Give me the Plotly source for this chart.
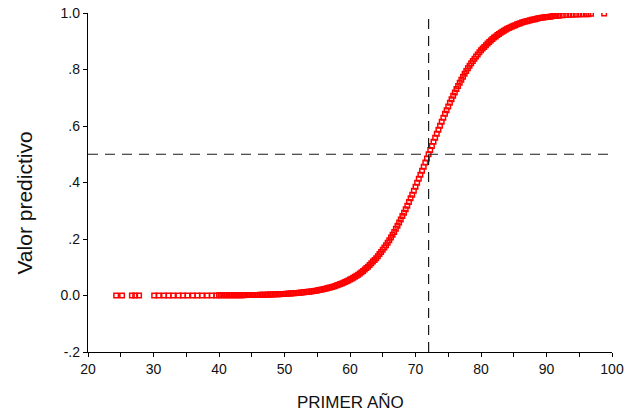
import plotly.graph_objects as go

# ---- data ----
primer_anio = [
    24.3, 25.2, 26.7, 27.2, 27.8,
    30.1, 30.8, 31.6, 32.3, 33.0, 33.8, 34.5, 35.2, 36.0, 36.7, 37.4, 38.2, 38.9, 39.6,
    40.0, 40.25, 40.5, 40.75, 41.0, 41.25, 41.5, 41.75, 42.0, 42.25, 42.5, 42.75, 43.0, 43.25,
    43.5, 43.75, 44.0, 44.25, 44.5, 44.75, 45.0, 45.25, 45.5, 45.75, 46.0, 46.25, 46.5, 46.75,
    47.0, 47.25, 47.5, 47.75, 48.0, 48.25, 48.5, 48.75, 49.0, 49.25, 49.5, 49.75, 50.0, 50.25,
    50.5, 50.75, 51.0, 51.25, 51.5, 51.75, 52.0, 52.25, 52.5, 52.75, 53.0, 53.25, 53.5, 53.75,
    54.0, 54.25, 54.5, 54.75, 55.0, 55.25, 55.5, 55.75, 56.0, 56.25, 56.5, 56.75, 57.0, 57.25,
    57.5, 57.75, 58.0, 58.25, 58.5, 58.75, 59.0, 59.25, 59.5, 59.75, 60.0, 60.25, 60.5, 60.75,
    61.0, 61.25, 61.5, 61.75, 62.0,
    62.25, 62.5, 62.75, 63.0, 63.25, 63.5, 63.75, 64.0, 64.25, 64.5, 64.75, 65.0, 65.25, 65.5,
    65.75, 66.0, 66.25, 66.5, 66.75, 67.0, 67.25, 67.5, 67.75, 68.0, 68.25, 68.5, 68.75, 69.0,
    69.25, 69.5, 69.75, 70.0, 70.25, 70.5, 70.75, 71.0, 71.25, 71.5, 71.75, 72.0, 72.25, 72.5,
    72.75, 73.0, 73.25, 73.5, 73.75, 74.0, 74.25, 74.5, 74.75, 75.0, 75.25, 75.5, 75.75, 76.0,
    76.25, 76.5, 76.75, 77.0, 77.25, 77.5, 77.75, 78.0, 78.25, 78.5, 78.75, 79.0, 79.25, 79.5,
    79.75, 80.0, 80.25, 80.5, 80.75, 81.0, 81.25, 81.5, 81.75, 82.0, 82.25, 82.5, 82.75, 83.0,
    83.25, 83.5, 83.75, 84.0, 84.25, 84.5, 84.75, 85.0, 85.25, 85.5, 85.75, 86.0, 86.25, 86.5,
    86.75, 87.0, 87.25, 87.5, 87.75, 88.0, 88.25, 88.5, 88.75, 89.0, 89.25, 89.5, 89.75, 90.0,
    90.25, 90.5, 90.75, 91.0, 91.25, 91.5, 91.75, 92.0, 92.5, 93.0, 93.5, 94.0, 94.5, 95.0,
    95.5, 96.0, 96.4, 96.8, 98.8,
]
valor_predictivo = [
    0.000, 0.000, 0.000, 0.000, 0.000,
    0.000, 0.000, 0.000, 0.000, 0.000, 0.000, 0.000, 0.000, 0.000, 0.000, 0.000, 0.000, 0.000, 0.000,
    0.0005, 0.0006, 0.0006, 0.0006, 0.0007, 0.0007, 0.0008, 0.0008, 0.0009, 0.0009, 0.0010, 0.0010, 0.0011, 0.0012,
    0.0012, 0.0013, 0.0014, 0.0015, 0.0016, 0.0017, 0.0018, 0.0019, 0.0020, 0.0021, 0.0022, 0.0024, 0.0025, 0.0027,
    0.0028, 0.0030, 0.0032, 0.0034, 0.0035, 0.0038, 0.0040, 0.0042, 0.0045, 0.0048, 0.0051, 0.0054, 0.0057, 0.0060,
    0.0064, 0.0068, 0.0072, 0.0076, 0.0081, 0.0086, 0.0091, 0.0096, 0.0102, 0.0108, 0.0115, 0.0122, 0.0129, 0.0137,
    0.0144, 0.0153, 0.0162, 0.0172, 0.0181, 0.0192, 0.0204, 0.0216, 0.0228, 0.0242, 0.0256, 0.0271, 0.0286, 0.0303,
    0.0321, 0.0340, 0.0360, 0.0381, 0.0403, 0.0426, 0.0450, 0.0476, 0.0503, 0.0532, 0.0562, 0.0594, 0.0627, 0.0662,
    0.0699, 0.0738, 0.0779, 0.0822, 0.0868,
    0.092, 0.097, 0.102, 0.108, 0.114, 0.120, 0.126, 0.132, 0.139, 0.147, 0.154, 0.162, 0.170, 0.178,
    0.187, 0.196, 0.205, 0.215, 0.225, 0.236, 0.247, 0.258, 0.269, 0.281, 0.293, 0.305, 0.318, 0.331,
    0.344, 0.357, 0.371, 0.385, 0.399, 0.413, 0.427, 0.442, 0.456, 0.471, 0.485, 0.500, 0.515, 0.529,
    0.544, 0.558, 0.573, 0.587, 0.601, 0.615, 0.629, 0.643, 0.656, 0.669, 0.682, 0.695, 0.707, 0.719,
    0.731, 0.742, 0.753, 0.764, 0.774, 0.785, 0.795, 0.804, 0.813, 0.822, 0.830, 0.838, 0.846, 0.853,
    0.861, 0.868, 0.874, 0.880, 0.886, 0.892, 0.897, 0.903, 0.908, 0.913, 0.917, 0.922, 0.926, 0.930,
    0.934, 0.937, 0.941, 0.944, 0.947, 0.950, 0.952, 0.955, 0.957, 0.960, 0.962, 0.964, 0.966, 0.968,
    0.970, 0.971, 0.973, 0.974, 0.976, 0.977, 0.978, 0.980, 0.981, 0.982, 0.983, 0.984, 0.985, 0.986,
    0.986, 0.987, 0.988, 0.989, 0.989, 0.990, 0.990, 0.991, 0.992, 0.993, 0.994, 0.994, 0.995, 0.995,
    0.996, 0.996, 0.996, 0.997, 0.998,
]

cutoff_x = 72
cutoff_y = 0.5

x_ticks = [20, 30, 40, 50, 60, 70, 80, 90, 100]
y_tick_vals = [-0.2, 0.0, 0.2, 0.4, 0.6, 0.8, 1.0]
y_tick_text = ["-.2", "0.0", ".2", ".4", ".6", ".8", "1.0"]

FONT = "Liberation Sans, Arial, sans-serif"
INK = "#111111"

fig = go.Figure()

fig.add_trace(go.Scatter(
    x=primer_anio, y=valor_predictivo, mode="markers",
    marker=dict(symbol="square-open", size=4.5, color="#ff0000",
                line=dict(width=1.5, color="#ff0000")),
    showlegend=False, hoverinfo="x+y",
))

dash_style = dict(color="#1a1a1a", width=1.2, dash="10px,7px")
fig.add_shape(type="line", xref="x", yref="y", x0=20, x1=100, y0=cutoff_y, y1=cutoff_y,
              line=dash_style, layer="above")
fig.add_shape(type="line", xref="x", yref="y", x0=cutoff_x, x1=cutoff_x, y0=-0.2, y1=1.0,
              line=dash_style, layer="above")

axis_common = dict(
    ticks="outside", ticklen=4, tickwidth=1.2, tickcolor="black",
    showline=True, linecolor="black", linewidth=1.3,
    showgrid=False, zeroline=False, automargin=False,
    ticklabeloverflow="allow",
    tickfont=dict(size=14, family=FONT, color=INK),
)

fig.update_layout(
    template="none",
    width=624, height=414,
    margin=dict(l=88, r=11.5, t=13, b=62),
    paper_bgcolor="white", plot_bgcolor="white",
    font=dict(family=FONT, color=INK, size=14),
    xaxis=dict(
        range=[20, 100], tickmode="array", tickvals=x_ticks,
        minor=dict(dtick=5, tick0=25, ticks="outside", ticklen=4, tickwidth=1.2,
                   tickcolor="black", showgrid=False),
        **axis_common,
    ),
    yaxis=dict(
        range=[-0.2, 1.0], tickmode="array", tickvals=y_tick_vals, ticktext=y_tick_text,
        **axis_common,
    ),
    annotations=[
        dict(text="PRIMER AÑO", xref="paper", yref="paper", x=0.5, y=-0.150,
             xanchor="center", yanchor="middle", showarrow=False,
             font=dict(size=17, family=FONT, color=INK)),
        dict(text="Valor predictivo", xref="paper", yref="paper", x=-0.122, y=0.438,
             xanchor="center", yanchor="middle", textangle=-90, showarrow=False,
             font=dict(size=21, family=FONT, color=INK)),
    ],
)

fig.write_html(
    "out.html",
    config={"displayModeBar": False},
    post_script="document.body.style.margin='0';document.body.style.overflow='hidden';",
)
